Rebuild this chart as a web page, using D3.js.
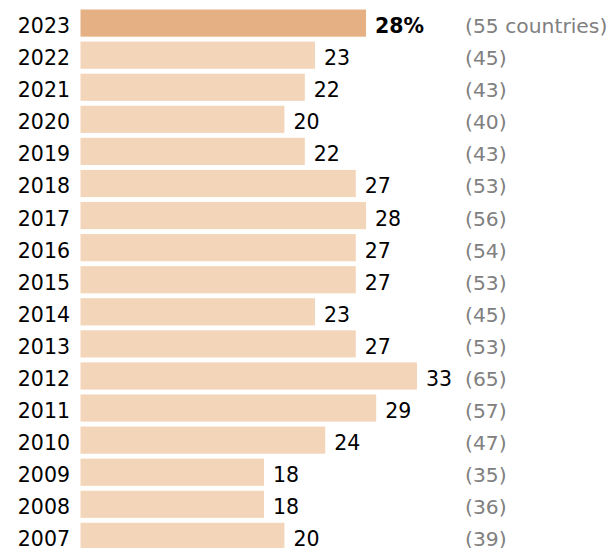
<!DOCTYPE html>
<meta charset="utf-8">
<head>
    <title>Share of countries</title>
    <style>
        body { margin: 0; background: #fff; }
        text { font-family: "DejaVu Sans", sans-serif; }
    </style>
</head>
<body>
<svg width="608" height="548"></svg>
<script src="https://d3js.org/d3.v7.min.js"></script>
<script>

    //chart data, newest year first
    var years = ["2023", "2022", "2021", "2020", "2019", "2018", "2017", "2016", "2015",
        "2014", "2013", "2012", "2011", "2010", "2009", "2008", "2007"];
    var shares = [28, 23, 22, 20, 22, 27, 28, 27, 27, 23, 27, 33, 29, 24, 18, 18, 20];
    var countries = [55, 45, 43, 40, 43, 53, 56, 54, 53, 45, 53, 65, 57, 47, 35, 36, 39];

    var svg = d3.select("svg");

    var x = d3.scaleLinear()
            .domain([0, 28])
            .range([80.5, 366]);

    var y = d3.scaleBand()
            .domain(years)
            .range([9.5, 9.5 + 17 * 32.08 - 4.9])
            .paddingInner(0.153)
            .paddingOuter(0);

    var rows = years.map(function(d, i) {
        return { year: d, share: shares[i], n: countries[i], first: i === 0 };
    });

    //text baseline sits a little below the bar middle
    function baseline(d) { return y(d.year) + y.bandwidth() / 2 + 10; }

    var row = svg.append("g")
            .selectAll("g")
            .data(rows)
            .enter().append("g");

    //bars
    row.append("rect")
            .attr("x", x(0))
            .attr("y", function(d) { return y(d.year); })
            .attr("width", function(d) { return x(d.share) - x(0); })
            .attr("height", y.bandwidth())
            .attr("fill", function(d) { return d.first ? "#e5b184" : "#f3d5ba"; });

    //year labels
    row.append("text")
            .attr("x", 70)
            .attr("y", baseline)
            .attr("text-anchor", "end")
            .attr("font-size", "20.5px")
            .attr("fill", "#000")
            .text(function(d) { return d.year; });

    //value labels
    row.append("text")
            .attr("x", function(d) { return x(d.share) + 9; })
            .attr("y", baseline)
            .attr("font-size", "20.5px")
            .attr("font-weight", function(d) { return d.first ? "bold" : "normal"; })
            .attr("fill", "#000")
            .text(function(d) { return d.first ? d.share + "%" : d.share; });

    //country counts
    row.append("text")
            .attr("x", 465)
            .attr("y", baseline)
            .attr("font-size", "20.3px")
            .attr("fill", "#808080")
            .text(function(d) { return d.first ? "(" + d.n + " countries)" : "(" + d.n + ")"; });

</script>
</body>
